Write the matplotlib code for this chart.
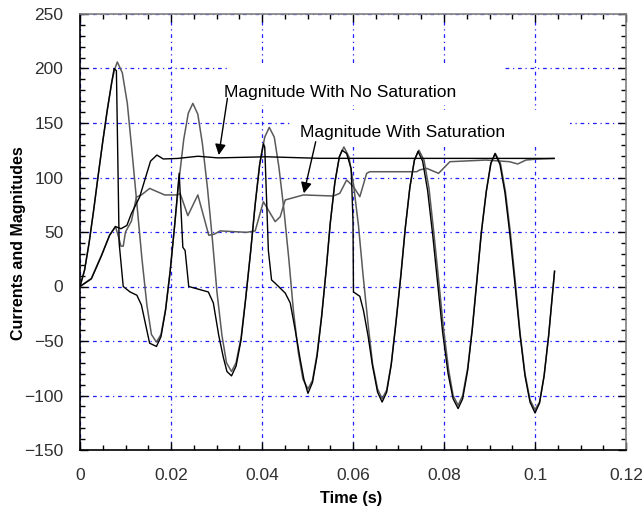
import matplotlib
matplotlib.use("Agg")
import matplotlib.pyplot as plt
import numpy as np
from matplotlib.ticker import MultipleLocator
from matplotlib.patches import Rectangle

plt.rcParams['font.family'] = ['Liberation Sans', 'DejaVu Sans']

# time in ms
t_cur_nosat = [0, 1, 2, 3, 4, 5, 6, 7, 7.6, 8.2,
               9.3, 10.4, 11.4, 12.5, 13.6, 14.7, 15.7, 16.8,
               17.8, 18.8, 19.8, 20.8, 21.8, 22.8, 23.8, 24.8,
               25.9, 26.9, 28.0, 29.1, 30.1, 31.2, 32.2, 33.3,
               34.3, 35.4, 36.4, 37.5, 38.5, 39.5, 40.6, 41.6,
               42.7, 43.7, 44.8, 45.9, 46.9, 48.0, 49.0, 50.1,
               51.1, 52.1, 53.1, 54.1, 55.0, 56.0, 57.0, 58.0,
               59.1, 60.1, 61.2, 62.2, 63.3, 64.3, 65.4, 66.4,
               67.4, 68.4, 69.4, 70.5, 71.5, 72.5, 73.5, 74.5,
               75.6, 76.7, 77.7, 78.8, 79.9, 81.0, 82.0, 83.1,
               84.1, 85.2, 86.2, 87.2, 88.2, 89.3, 90.3, 91.3,
               92.4, 93.5, 94.6, 95.7, 96.7, 97.8, 98.9, 100.0,
               101, 102, 103, 104.3]
cur_nosat = [0, 15, 40, 70, 102, 133, 162, 188, 199, 206,
             196, 168, 125, 76, 26, -17, -44, -51,
             -44, -21, 14, 56, 99, 135, 159, 168,
             158, 131, 91, 43, -5, -45, -70, -78,
             -70, -47, -11, 32, 76, 113, 137, 146,
             137, 110, 71, 25, -22, -61, -85, -94,
             -86, -62, -27, 15, 58, 95, 119, 128,
             119, 94, 56, 11, -34, -71, -94, -103,
             -95, -71, -34, 10, 54, 91, 116, 125,
             116, 90, 52, 7, -39, -76, -100, -109,
             -100, -75, -39, 5, 50, 88, 113, 122,
             113, 87, 49, 3, -42, -80, -104, -113,
             -106, -82, -45, 14]

t_cur_sat = [0, 1, 2, 3, 4, 5, 6, 7, 7.5, 8.0, 8.3, 8.6, 9.5, 11.0, 12.5, 13.5, 15.3, 16.8,
             17.8, 18.8, 19.8, 20.8, 21.8, 22.6, 23.1, 23.9, 28.2, 29.3, 30.5, 31.5, 32.3, 33.3,
             34.3, 35.4, 36.4, 37.5, 38.5, 39.5, 40.3, 40.6, 41.4, 42.1, 42.9, 45.1, 46.2, 47.3,
             48.4, 49.2, 50.1,
             51.1, 52.1, 53.1, 54.1, 55.0, 56.0, 57.0, 57.6, 58.6, 59.6, 60.0, 60.1, 61.5, 62.3,
             63.3, 64.3, 65.4, 66.4,
             67.4, 68.4, 69.4, 70.5, 71.5, 72.5, 73.5, 74.3, 75.3, 76.4, 77.5, 78.6, 79.7, 80.9,
             82.0, 83.1,
             84.1, 85.2, 86.2, 87.2, 88.2, 89.3, 90.3, 91.2, 92.3, 93.4, 94.5, 95.6, 96.7, 97.8,
             98.9, 100.0,
             101, 102, 103, 104.3]
cur_sat = [0, 15, 40, 70, 102, 133, 162, 188, 200, 198, 120, 40, 0, -5, -8, -17, -52, -55,
           -46, -22, 13, 56, 104, 36, 33, 0, -5, -15, -45, -65, -78, -82,
           -73, -49, -12, 32, 75, 112, 131, 128, 33, 6, 3, -6, -15, -40,
           -67, -85, -98,
           -88, -64, -28, 15, 58, 95, 119, 125, 122, 108, 60, -5, -9, -22,
           -45, -73, -97, -106,
           -97, -72, -35, 9, 54, 91, 116, 124, 115, 88, 48, 3, -42, -80,
           -103, -112,
           -103, -77, -40, 4, 49, 87, 113, 122, 112, 86, 47, 2, -44, -82,
           -106, -116,
           -107, -82, -45, 14]

t_mag_nosat = [0, 2.5, 4.7, 6.5, 7.8, 9.0, 10.3, 11.3, 13.1, 14.7, 15.5, 16.9, 18.3, 21.5,
               25.9, 30.3, 41, 52.7, 104.2]
mag_nosat = [0, 7, 28, 47, 55, 53, 56, 67, 82, 104, 115, 120.6, 117, 117.5,
             119.5, 118, 119, 117.6, 117.5]

t_mag_sat = [0, 2.5, 4.7, 6.5, 7.8, 8.5, 9.0, 9.5, 10.0, 11.3, 12.4, 13.5, 15.3, 18.6, 21.5,
             22.0, 23.7, 25.9, 28.3, 29.5, 30.8, 36.6, 38.5, 40.3, 42.9, 44, 45.1, 49.1,
             55.7, 57.1, 58.6, 60.1, 61.5, 63.0, 63.7, 74.0, 74.7, 76.2, 78.8, 80.6, 81.3,
             89.2, 94.4, 96.2, 98, 99.8, 104.2]
mag_sat = [0, 7.5, 28.5, 47, 55, 45, 37, 37, 50, 60, 82, 84, 90, 84, 84,
           85.5, 65, 84, 47, 48, 51, 49.7, 51, 77.8, 59.5, 64, 79.4, 84,
           83, 85.5, 97.7, 91.6, 82.4, 103.8, 105.3, 105.3, 107, 108.4, 103.8, 111.5, 114.5,
           116, 114.5, 112.4, 116, 116.7, 117.5]

x_ticks = [0, 0.02, 0.04, 0.06, 0.08, 0.1, 0.12]
x_labels = ['0', '0.02', '0.04', '0.06', '0.08', '0.1', '0.12']
y_ticks = [-150, -100, -50, 0, 50, 100, 150, 200, 250]

W, H = 644, 507
fig = plt.figure(figsize=(W / 100, H / 100), dpi=100)
ax = fig.add_axes([80 / W, 1 - 450 / H, 546 / W, 436 / H])

ms = lambda t: np.array(t) / 1000.0

ax.plot(ms(t_cur_nosat), cur_nosat, color='#5a5a5a', lw=1.1, zorder=3)
ax.plot(ms(t_mag_sat), mag_sat, color='#5a5a5a', lw=1.1, zorder=3)
ax.plot(ms(t_cur_sat), cur_sat, color='black', lw=1.0, zorder=4)
ax.plot(ms(t_mag_nosat), mag_nosat, color='black', lw=1.0, zorder=4)

ax.set_xlim(0, 0.12)
ax.set_ylim(-150, 250)
ax.set_xticks(x_ticks, x_labels)
ax.set_yticks(y_ticks)
ax.xaxis.set_minor_locator(MultipleLocator(0.005))
ax.yaxis.set_minor_locator(MultipleLocator(10))

ax.tick_params(which='both', direction='in', top=True, right=True,
               labelsize=12.5, labelcolor='#303030', width=1)
ax.tick_params(which='major', length=6)
ax.tick_params(which='minor', length=3.6)
ax.tick_params(axis='x', pad=13)
ax.tick_params(axis='y', pad=12)

for s in ['left', 'bottom']:
    ax.spines[s].set_linewidth(1.2)
for s in ['top', 'right']:
    ax.spines[s].set_color('#808080')
    ax.spines[s].set_linewidth(1.2)

ax.grid(True, which='major', color='#2020ff', lw=0.9, ls=(0, (3, 3, 1, 3)), zorder=0)
ax.set_axisbelow(True)

# white boxes behind the labels hide the grid
ax.add_patch(Rectangle((0.0323, 166.5), 0.0607, 38.5, facecolor='white',
                       edgecolor='none', zorder=1))
ax.add_patch(Rectangle((0.0468, 128), 0.0609, 34, facecolor='white',
                       edgecolor='none', zorder=1))

ax.text(0.0317, 174, 'Magnitude With No Saturation', fontsize=12.5, va='baseline', zorder=5)
ax.text(0.0484, 137, 'Magnitude With Saturation', fontsize=12.5, va='baseline', zorder=5)

arrow = dict(arrowstyle='-|>', color='black', lw=1.0, mutation_scale=16, shrinkA=0, shrinkB=0)
ax.annotate('', xy=(0.0305, 120.6), xytext=(0.0324, 172.7), arrowprops=arrow, zorder=5)
ax.annotate('', xy=(0.0492, 85.5), xytext=(0.0518, 132.8), arrowprops=arrow, zorder=5)

fig.text(351 / W, 1 - 498 / H, 'Time (s)', fontsize=11.8, fontweight='bold',
         ha='center', va='center')
fig.text(18.5 / W, 1 - 243 / H, 'Currents and Magnitudes', fontsize=11.5,
         fontweight='bold', rotation=90, ha='center', va='center')

fig.savefig('out.png', dpi=100, facecolor='white')
